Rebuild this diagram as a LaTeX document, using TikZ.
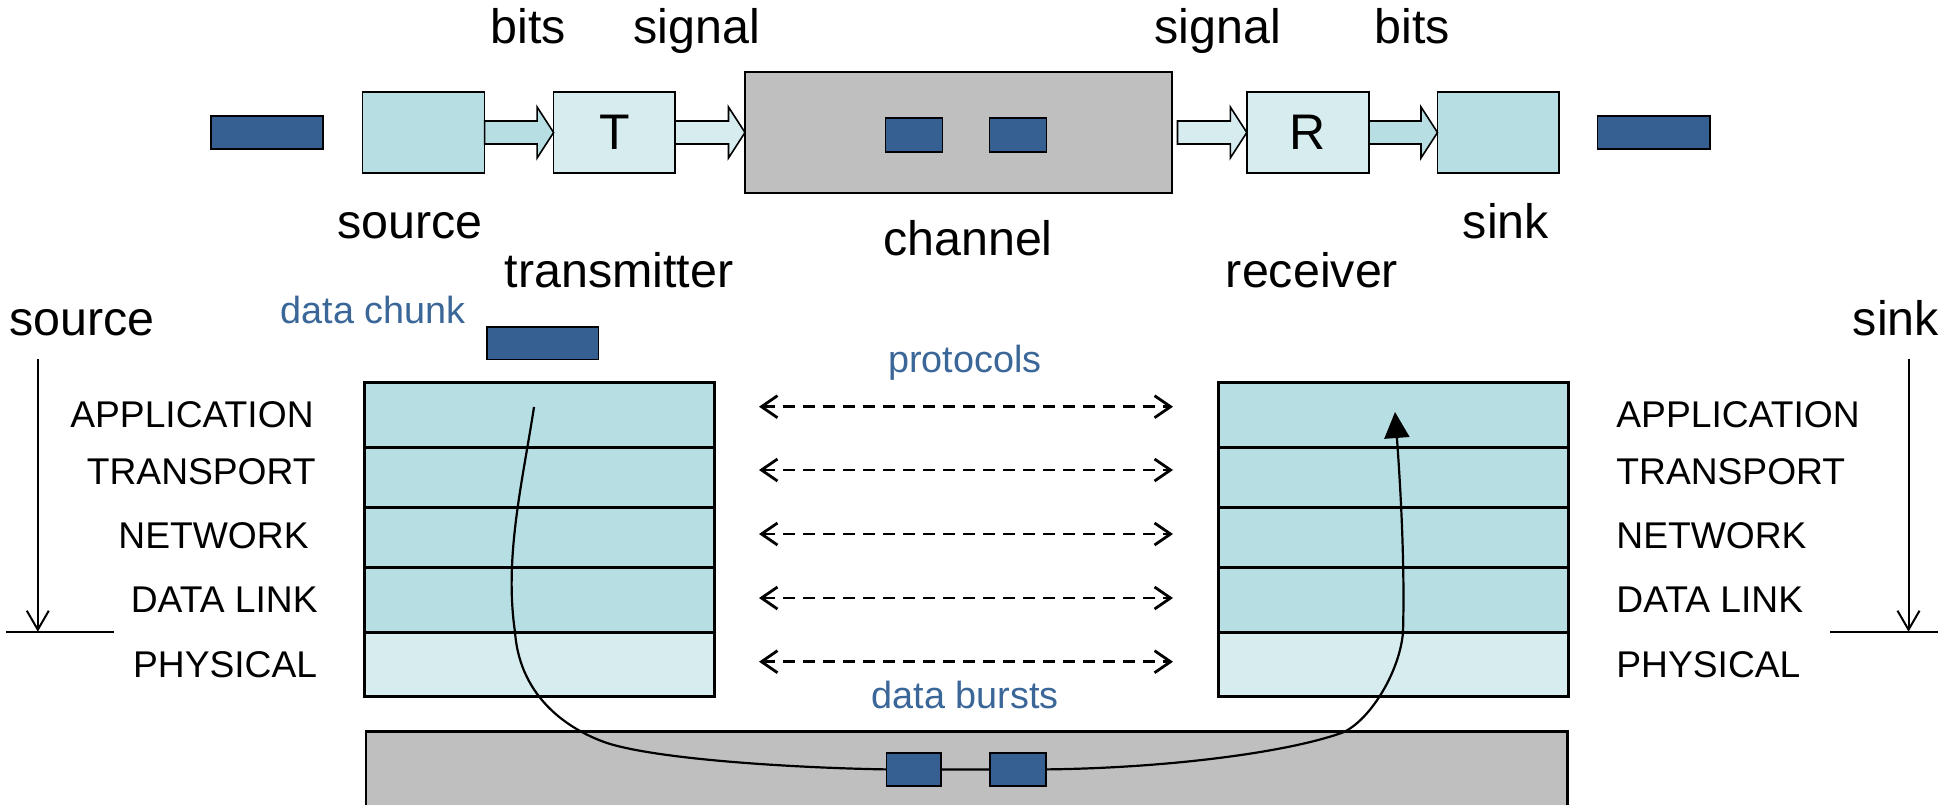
\documentclass[tikz,border=0pt]{standalone}
\usepackage{fontspec}
\setmainfont{Liberation Sans}
\usetikzlibrary{arrows.meta,calc}
\definecolor{dblue}{HTML}{376092}
\definecolor{tblue}{HTML}{3B6698}
\definecolor{tealA}{HTML}{B7DEE3}
\definecolor{tealB}{HTML}{D6ECEF}
\definecolor{chgray}{HTML}{BFBFBF}
\newcommand\blkarr[3]{%
  \draw[blk,fill=#3] ($(#1)+(0,-11.5)$) -- ($(#2)+(-16.5,-11.5)$) -- ($(#2)+(-16.5,-25.5)$) -- (#2)
    -- ($(#2)+(-16.5,25.5)$) -- ($(#2)+(-16.5,11.5)$) -- ($(#1)+(0,11.5)$) -- cycle;}
\begin{document}
\begin{tikzpicture}[x=0.5pt,y=-0.5pt,
  box/.style={draw,line width=0.8pt,outer sep=0pt,inner sep=0pt},
  datarect/.style={box,fill=dblue},
  layer/.style={draw,line width=1.5pt,outer sep=0pt,inner sep=0pt,minimum width=174.75pt},
  blk/.style={draw,line width=0.8pt,line join=miter},
  big/.style={inner sep=0pt,font=\fontsize{24.2pt}{29pt}\selectfont},
  lay/.style={inner sep=0pt,font=\fontsize{18.6pt}{22pt}\selectfont},
  blue/.style={inner sep=0pt,text=tblue,font=\fontsize{18.9pt}{22pt}\selectfont},
  proto/.style={line width=1.4pt,dash pattern=on 6pt off 4pt,{Straight Barb[length=8pt,width=11pt]}-{Straight Barb[length=8pt,width=11pt]}},
  dir/.style={line width=1pt,-{Straight Barb[length=9.5pt,width=11pt]}},
  curve/.style={line width=1.1pt,-{Triangle[length=13pt,width=12.5pt]}}
]
\useasboundingbox (0,0) rectangle (1959,804);
\clip (0,0) rectangle (1959,804);

% ---------- top chain ----------
\node[datarect,minimum width=56pt,minimum height=16.5pt] (dataL) at (267,132.5) {};
\node[box,fill=tealA,minimum width=61pt,minimum height=40.5pt] (src) at (423.65,132.5) {};
\node[box,fill=tealB,minimum width=60.7pt,minimum height=40.5pt,font=\fontsize{25pt}{30pt}\selectfont] (T) at (614.3,132.5) {T};
\node[box,fill=chgray,line width=1.1pt,minimum width=213.3pt,minimum height=60.5pt] (chan) at (958.3,132.5) {};
\node[datarect,minimum width=28.35pt,minimum height=17pt] (cd1) at (914,135) {};
\node[datarect,minimum width=28.6pt,minimum height=17pt] (cd2) at (1018,135) {};
\node[box,fill=tealB,minimum width=61.1pt,minimum height=40.5pt,font=\fontsize{25pt}{30pt}\selectfont] (R) at (1307.9,132.5) {R};
\node[box,fill=tealA,minimum width=60.75pt,minimum height=40.5pt] (sink) at (1498.25,132.5) {};
\node[datarect,minimum width=56.2pt,minimum height=16.5pt] (dataR) at (1653.8,132.5) {};

\coordinate (a3s) at (1177.5,132.5);
\blkarr{src.east}{T.west}{tealA}
\blkarr{T.east}{chan.west}{tealB}
\blkarr{a3s}{R.west}{tealB}
\blkarr{R.east}{sink.west}{tealA}

\node[big,anchor=base] (lbits1) at (528,43) {bits};
\node[big,anchor=base] (lsig1) at (697,43) {signal};
\node[big,anchor=base] (lsig2) at (1218,43) {signal};
\node[big,anchor=base] (lbits2) at (1412,43) {bits};
\node[big,anchor=base] (lsrc) at (410,238) {source};
\node[big,anchor=base] (ltx) at (619,287) {transmitter};
\node[big,anchor=base] (lch) at (968,255) {channel};
\node[big,anchor=base] (lrx) at (1312,287) {receiver};
\node[big,anchor=base] (lsink) at (1506,238) {sink};

% ---------- stacks ----------
\node[layer,fill=tealA,minimum height=32.5pt] (L1) at (539.25,414.5) {};
\node[layer,fill=tealA,minimum height=30pt] (L2) at (539.25,477) {};
\node[layer,fill=tealA,minimum height=30pt] (L3) at (539.25,537) {};
\node[layer,fill=tealA,minimum height=32.5pt] (L4) at (539.25,599.5) {};
\node[layer,fill=tealB,minimum height=32pt] (L5) at (539.25,664) {};
\node[layer,fill=tealA,minimum height=32.5pt] (R1) at (1393.3,414.5) {};
\node[layer,fill=tealA,minimum height=30pt] (R2) at (1393.3,477) {};
\node[layer,fill=tealA,minimum height=30pt] (R3) at (1393.3,537) {};
\node[layer,fill=tealA,minimum height=32.5pt] (R4) at (1393.3,599.5) {};
\node[layer,fill=tealB,minimum height=32pt] (R5) at (1393.3,664) {};

\node[lay,anchor=base east] (la1) at (314,427) {APPLICATION};
\node[lay,anchor=base east] (la2) at (316,484) {TRANSPORT};
\node[lay,anchor=base east] (la3) at (309,548) {NETWORK};
\node[lay,anchor=base east] (la4) at (318,612) {DATA LINK};
\node[lay,anchor=base east] (la5) at (317.5,677) {PHYSICAL};
\node[lay,anchor=base west] (ra1) at (1616,427) {APPLICATION};
\node[lay,anchor=base west] (ra2) at (1616,484) {TRANSPORT};
\node[lay,anchor=base west] (ra3) at (1616,548) {NETWORK};
\node[lay,anchor=base west] (ra4) at (1616,612) {DATA LINK};
\node[lay,anchor=base west] (ra5) at (1616,677) {PHYSICAL};

% protocol arrows
\foreach \i/\y in {1/406.7,2/470,3/534,4/598,5/661.7}{
  \coordinate (pl\i) at (759,\y);
  \coordinate (pr\i) at (1173,\y);
  \draw[proto] (pl\i) -- (pr\i);
}
\node[blue,anchor=base] (lproto) at (965,372) {protocols};
\node[blue,anchor=base] (lburst) at (965,708) {data bursts};
\node[blue,anchor=base] (lchunk) at (373,323) {data chunk};
\node[datarect,minimum width=55.8pt,minimum height=16.3pt] (chunk) at (542.8,343) {};

% source / sink direction
\node[big,anchor=base] (lsrc2) at (82,335) {source};
\node[big,anchor=base] (lsink2) at (1896,335) {sink};
\coordinate (sa1) at (37.8,359);
\coordinate (sa2) at (37.8,631.7);
\coordinate (sh1) at (6,631.7);
\coordinate (sh2) at (114.4,631.7);
\draw[dir] (sa1) -- (sa2);
\draw[line width=1pt] (sh1) -- (sh2);
\coordinate (ka1) at (1908.5,359);
\coordinate (ka2) at (1908.5,631.7);
\coordinate (kh1) at (1830,631.7);
\coordinate (kh2) at (1938.4,631.7);
\draw[dir] (ka1) -- (ka2);
\draw[line width=1pt] (kh1) -- (kh2);

% ---------- medium ----------
\draw[fill=chgray,line width=1.3pt] (366,731.7) rectangle (1567.5,840);
\node[datarect,minimum width=27.1pt,minimum height=16.65pt] (b1) at (913.7,769.4) {};
\node[datarect,minimum width=28pt,minimum height=16.65pt] (b2) at (1018,769.4) {};

\coordinate (cs) at (534,407);
\coordinate (ce) at (1395,412);
\draw[curve] (cs) .. controls (522.5,482) and (504,557) .. (515,632)
  .. controls (520,700) and (572,731) .. (607,743)
  .. controls (660,760) and (800,768) .. (b1.west)
  (b1.east) -- (b2.west)
  (b2.east) .. controls (1170,768) and (1290,752) .. (1344,732)
  .. controls (1372,718) and (1400,670) .. (1403,632)
  .. controls (1405,560) and (1400,480) .. (ce);
\end{tikzpicture}
\end{document}
